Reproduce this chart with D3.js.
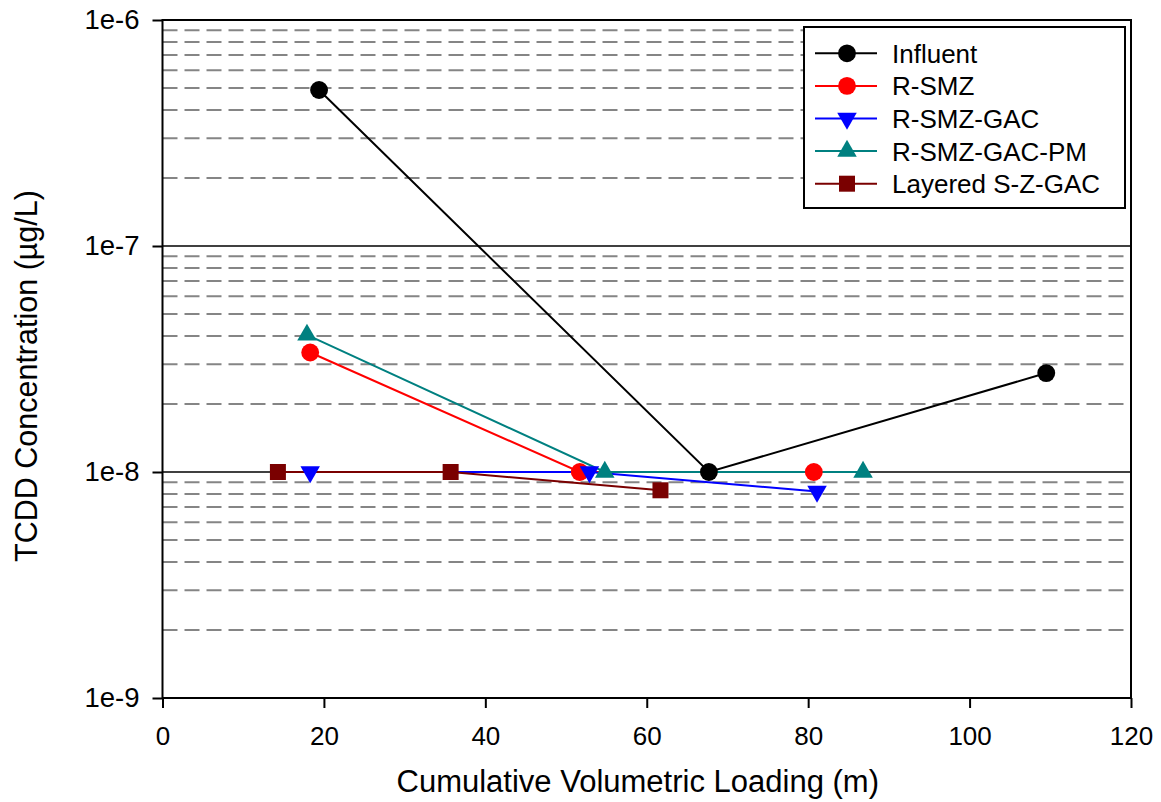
<!DOCTYPE html>
<html>
<head>
  <meta charset="utf-8">
  <title>TCDD Concentration vs Cumulative Volumetric Loading</title>
  <script src="https://d3js.org/d3.v7.min.js"></script>
  <style>
    body { margin: 0; background: #fff; }
    text { font-family: "Liberation Sans", Arial, sans-serif; fill: #000; }
  </style>
</head>
<body>

<script>
// values
const seriesNames = ['Influent', 'R-SMZ', 'R-SMZ-GAC', 'R-SMZ-GAC-PM', 'Layered S-Z-GAC'];

const influentX = [19.4, 67.7, 109.5];
const influentY = [4.9e-7, 1.0e-8, 2.74e-8];

const rsmzX = [18.3, 51.7, 80.7];
const rsmzY = [3.38e-8, 1.0e-8, 1.0e-8];

const gacX = [18.3, 52.9, 81.1];
const gacY = [1.0e-8, 1.0e-8, 8.2e-9];

const pmX = [17.9, 54.8, 86.8];
const pmY = [4.04e-8, 1.0e-8, 1.0e-8];

const layeredX = [14.3, 35.7, 61.7];
const layeredY = [1.0e-8, 1.0e-8, 8.3e-9];

const xTicks = [0, 20, 40, 60, 80, 100, 120];
const yTicks = [1e-9, 1e-8, 1e-7, 1e-6];

const width = 1161;
const height = 802;
const plot = { left: 162.5, right: 1131, top: 20, bottom: 698 };

const svg = d3.select('body')
  .append('svg')
  .attr('width', width)
  .attr('height', height);

const x = d3.scaleLinear().domain([0, 120]).range([plot.left, plot.right]);
const y = d3.scaleLog().domain([1e-9, 1e-6]).range([plot.bottom, plot.top]);

// minor grid: 2..9 inside each decade
const minorGrid = [];
yTicks.slice(0, -1).forEach(d => {
  for (let k = 2; k <= 9; k++) minorGrid.push(d * k);
});

svg.append('g')
  .selectAll('line')
  .data(minorGrid)
  .enter().append('line')
    .attr('x1', plot.left)
    .attr('x2', plot.right)
    .attr('y1', d => y(d))
    .attr('y2', d => y(d))
    .attr('stroke', '#858585')
    .attr('stroke-width', 2)
    .attr('stroke-dasharray', '15,7');

svg.append('g')
  .selectAll('line')
  .data(yTicks.slice(1, -1))
  .enter().append('line')
    .attr('x1', plot.left)
    .attr('x2', plot.right)
    .attr('y1', d => y(d))
    .attr('y2', d => y(d))
    .attr('stroke', '#000')
    .attr('stroke-width', 1.6);

// frame
svg.append('rect')
  .attr('x', plot.left)
  .attr('y', plot.top)
  .attr('width', plot.right - plot.left)
  .attr('height', plot.bottom - plot.top)
  .attr('fill', 'none')
  .attr('stroke', '#000')
  .attr('stroke-width', 2);

// axes
const xAxis = svg.append('g')
  .attr('transform', `translate(0,${plot.bottom})`)
  .call(d3.axisBottom(x).tickValues(xTicks).tickSize(10).tickSizeOuter(0).tickPadding(19));
xAxis.select('.domain').remove();
xAxis.selectAll('line').attr('stroke', '#000').attr('stroke-width', 2);
xAxis.selectAll('text').style('font-size', '26px');

const yAxis = svg.append('g')
  .attr('transform', `translate(${plot.left},0)`)
  .call(d3.axisLeft(y).tickValues(yTicks).tickFormat(d3.format('.0e')).tickSize(10).tickSizeOuter(0).tickPadding(13));
yAxis.select('.domain').remove();
yAxis.selectAll('line').attr('stroke', '#000').attr('stroke-width', 2);
yAxis.selectAll('text').style('font-size', '27.5px');

svg.append('text')
  .attr('x', (plot.left + plot.right) / 2 - 9)
  .attr('y', 792)
  .attr('text-anchor', 'middle')
  .style('font-size', '31px')
  .text('Cumulative Volumetric Loading (m)');

svg.append('text')
  .attr('transform', 'translate(37,376) rotate(-90)')
  .attr('text-anchor', 'middle')
  .style('font-size', '30.5px')
  .text('TCDD Concentration (µg/L)');

// series
const series = [
  { name: seriesNames[1], xs: rsmzX, ys: rsmzY, color: '#ff0000', shape: 'circle' },
  { name: seriesNames[2], xs: gacX, ys: gacY, color: '#0000ff', shape: 'down' },
  { name: seriesNames[3], xs: pmX, ys: pmY, color: '#008080', shape: 'up' },
  { name: seriesNames[4], xs: layeredX, ys: layeredY, color: '#7a0000', shape: 'square' },
  { name: seriesNames[0], xs: influentX, ys: influentY, color: '#000000', shape: 'circle' }
];

const symbolFor = shape => {
  if (shape === 'circle') return d3.symbol().type(d3.symbolCircle).size(250)();
  if (shape === 'square') return d3.symbol().type(d3.symbolSquare).size(256)();
  return d3.symbol().type(d3.symbolTriangle).size(165)();
};
const rot = shape => shape === 'down' ? ' rotate(180)' : '';

const line = d3.line().x(d => x(d[0])).y(d => y(d[1]));

series.forEach(s => {
  svg.append('path')
    .datum(s.xs.map((v, i) => [v, s.ys[i]]))
    .attr('d', line)
    .attr('fill', 'none')
    .attr('stroke', s.color)
    .attr('stroke-width', 2);
});

series.forEach(s => {
  svg.append('g')
    .selectAll('path')
    .data(s.xs.map((v, i) => [v, s.ys[i]]))
    .enter().append('path')
      .attr('d', symbolFor(s.shape))
      .attr('transform', d => `translate(${x(d[0])},${y(d[1])})${rot(s.shape)}`)
      .attr('fill', s.color);
});

// legend
const legendOrder = [series[4], series[0], series[1], series[2], series[3]];
const legend = svg.append('g');
legend.append('rect')
  .attr('x', 804)
  .attr('y', 27)
  .attr('width', 321)
  .attr('height', 181)
  .attr('fill', '#fff')
  .attr('stroke', '#000')
  .attr('stroke-width', 2);

const item = legend.selectAll('.item')
  .data(legendOrder)
  .enter().append('g')
    .attr('class', 'item')
    .attr('transform', (d, i) => `translate(0,${53.3 + i * 32.6})`);

item.append('line')
  .attr('x1', 815).attr('x2', 877)
  .attr('stroke', d => d.color)
  .attr('stroke-width', 2);

item.append('path')
  .attr('d', d => symbolFor(d.shape))
  .attr('transform', d => `translate(847,0)${rot(d.shape)}`)
  .attr('fill', d => d.color);

item.append('text')
  .attr('x', 892)
  .attr('y', 9.5)
  .style('font-size', '26px')
  .text(d => d.name);
</script>

</body>
</html>
